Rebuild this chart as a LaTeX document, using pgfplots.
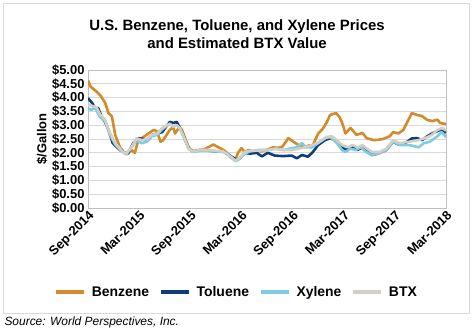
\documentclass[border=0pt]{standalone}
\usepackage{pgfplots}
\pgfplotsset{compat=1.18}
\usepackage{fontspec}
\setmainfont{Liberation Sans}
\definecolor{benz}{HTML}{D38A2A}
\definecolor{tolu}{HTML}{0F3D7C}
\definecolor{xyl}{HTML}{7ECCE4}
\definecolor{btx}{HTML}{D3CFC4}
\definecolor{gridc}{HTML}{D9D9D9}
\definecolor{framec}{HTML}{BFBFBF}
\begin{document}
\begin{tikzpicture}
\useasboundingbox (0,0) rectangle (474bp,331bp);
\draw[gridc, line width=0.8bp] (3bp,18bp) rectangle (469bp,328bp);
\node[font=\fontsize{15}{18}\selectfont\bfseries, align=center] at (237bp,297bp) {U.S. Benzene, Toluene, and Xylene Prices\\and Estimated BTX Value};
\node[font=\fontsize{12}{14}\selectfont\itshape, anchor=west] at (1bp,9bp) {Source: World Perspectives, Inc.};
\begin{axis}[
  scale only axis, width=358bp, height=138bp,
  at={(88bp,123bp)}, anchor=south west,
  xmin=0, xmax=42, ymin=0, ymax=5,
  xtick={0,6,...,42},
  xticklabels={Sep-2014,Mar-2015,Sep-2015,Mar-2016,Sep-2016,Mar-2017,Sep-2017,Mar-2018},
  ytick={0,0.5,...,5},
  yticklabel={\$\pgfmathprintnumber[fixed,fixed zerofill,precision=2]{\tick}},
  /pgf/number format/assume math mode=true,
  ymajorgrids, grid style={gridc, line width=0.8bp},
  axis line style={framec, line width=0.8bp},
  major tick length=0pt,
  y tick label style={font=\fontsize{13}{15}\selectfont\bfseries},
  x tick label style={font=\fontsize{13}{15}\selectfont\bfseries, rotate=45, anchor=north east, inner sep=1bp},
  ylabel={\$/Gallon}, ylabel style={font=\fontsize{13}{15}\selectfont\bfseries, yshift=-2bp},
  legend columns=4,
  legend style={at={(0.415,-0.61)}, anchor=center, draw=none, fill=none,
    font=\fontsize{14}{16}\selectfont\bfseries, column sep=4bp,
    /tikz/every even column/.append style={column sep=8bp}},
  legend image code/.code={\draw[#1, line width=3.5bp] (0bp,0bp) -- (28bp,0bp);},
  every axis plot/.append style={line width=2.6bp, line join=round, mark=none},
]
\addplot[benz] coordinates {
(0,4.62)(0.3,4.40)(0.6,4.32)(1.0,4.22)(1.4,4.10)(2.0,3.82)(2.4,3.44)(2.8,3.32)(3.2,2.64)(3.75,2.2)
(4.3,1.99)(4.6,1.95)(5.1,2.1)(5.5,2.0)(5.9,2.46)(6.5,2.57)(7.1,2.7)(7.7,2.83)(8.1,2.78)(8.5,2.4)
(8.8,2.45)(9.2,2.64)(9.6,2.83)(10.0,2.93)(10.2,2.7)(10.6,2.87)(11.0,2.85)(11.6,2.35)(12.0,2.1)(12.5,2.05)
(13.1,2.1)(13.6,2.12)(14.1,2.2)(14.7,2.3)(15.3,2.2)(15.9,2.1)(16.3,2.0)(16.7,1.85)(17.3,1.75)(17.6,2.0)
(18.0,2.17)(18.4,2.02)(18.8,2.1)(19.3,2.05)(19.8,2.07)(20.4,2.05)(21.1,2.12)(21.7,2.2)(22.3,2.18)(22.8,2.22)
(23.5,2.53)(24.0,2.42)(24.7,2.28)(25.5,2.2)(26.0,2.28)(26.3,2.22)(27.0,2.7)(27.5,2.85)(28.0,3.1)(28.4,3.37)
(29.1,3.44)(29.5,3.3)(29.8,3.1)(30.2,2.7)(30.8,2.9)(31.5,2.65)(32.2,2.72)(32.7,2.53)(33.5,2.46)(34.0,2.47)
(34.6,2.5)(35.4,2.6)(35.8,2.75)(36.4,2.7)(37.0,2.83)(37.4,3.08)(38.0,3.44)(38.6,3.37)(39.2,3.33)(39.8,3.19)
(40.4,3.15)(41.0,3.2)(41.3,3.08)(42.0,3.04)};
\addlegendentry{Benzene}
\addplot[tolu] coordinates {
(0,3.98)(0.5,3.8)(0.8,3.62)(1.2,3.62)(1.6,3.3)(2.0,3.12)(2.4,2.83)(2.9,2.35)(3.75,2.1)(4.3,2.0)
(4.7,1.98)(5.3,2.35)(5.9,2.53)(6.5,2.5)(7.0,2.45)(7.5,2.64)(8.1,2.7)(8.7,2.75)(9.3,3.0)(9.6,3.12)
(10.0,3.08)(10.4,3.12)(10.8,2.9)(11.4,2.46)(11.8,2.17)(12.3,2.05)(13.1,2.1)(14.1,2.08)(15.1,2.05)(15.9,2.05)
(16.4,1.95)(16.9,1.85)(17.5,1.74)(17.8,1.8)(18.4,2.0)(19.0,1.97)(19.8,2.0)(20.4,1.87)(21.1,2.0)(21.9,1.9)
(22.9,1.88)(23.9,1.9)(24.5,1.8)(25.1,1.92)(25.8,1.86)(26.3,2.0)(27.0,2.28)(27.8,2.46)(28.4,2.53)(29.0,2.46)
(29.6,2.28)(30.2,2.1)(31.0,2.2)(31.6,2.1)(32.2,2.2)(32.7,2.08)(33.3,1.92)(34.0,1.97)(35.0,2.1)(35.8,2.4)
(36.4,2.3)(37.2,2.35)(38.0,2.52)(38.6,2.53)(39.2,2.46)(39.8,2.6)(40.5,2.72)(41.3,2.83)(41.9,2.75)(42,2.72)};
\addlegendentry{Toluene}
\addplot[xyl] coordinates {
(0,3.62)(0.4,3.55)(0.8,3.65)(1.4,3.3)(2.0,3.15)(2.6,2.64)(3.2,2.3)(4.0,2.05)(4.5,1.95)(5.1,2.2)
(5.7,2.45)(6.3,2.35)(6.9,2.4)(7.5,2.6)(8.1,2.65)(8.7,2.85)(9.3,3.0)(9.6,3.05)(10.0,2.95)(10.4,3.0)
(10.8,2.9)(11.4,2.45)(11.8,2.15)(12.3,2.03)(13.1,2.08)(14.1,2.08)(15.1,2.05)(15.9,2.03)(16.4,1.93)(16.9,1.8)
(17.3,1.7)(17.8,1.8)(18.4,1.97)(19.0,2.05)(20.0,2.1)(21.1,2.1)(22.0,2.15)(23.0,2.1)(23.6,2.15)(24.5,2.2)
(25.1,2.35)(25.6,2.2)(26.3,2.2)(27.0,2.35)(27.8,2.53)(28.4,2.57)(29.2,2.35)(29.8,2.1)(30.2,2.03)(30.8,2.15)
(31.4,2.1)(32.0,2.2)(32.6,2.03)(33.3,1.92)(34.0,1.97)(35.0,2.1)(35.8,2.4)(36.6,2.28)(37.7,2.28)(38.8,2.2)
(39.4,2.35)(40.1,2.4)(41.0,2.6)(41.5,2.75)(42.0,2.57)};
\addlegendentry{Xylene}
\addplot[btx] coordinates {
(0,3.75)(0.5,3.7)(1.0,3.65)(1.4,3.4)(2.0,3.2)(2.6,2.7)(3.2,2.35)(4.0,2.05)(4.5,1.97)(5.1,2.2)
(5.7,2.53)(6.3,2.46)(6.9,2.5)(7.5,2.64)(8.1,2.7)(8.7,2.9)(9.3,3.0)(9.6,3.05)(10.0,2.95)(10.4,3.0)
(10.8,2.87)(11.4,2.45)(11.8,2.15)(12.3,2.05)(13.1,2.1)(14.1,2.1)(15.1,2.07)(15.9,2.05)(16.4,1.95)(16.9,1.82)
(17.3,1.72)(17.8,1.82)(18.4,2.03)(19.0,2.07)(20.0,2.08)(21.1,2.1)(22.0,2.15)(23.0,2.1)(24.0,2.1)(24.7,2.15)
(25.5,2.2)(26.3,2.28)(27.2,2.4)(28.0,2.57)(28.6,2.6)(29.2,2.46)(29.8,2.28)(30.5,2.2)(31.0,2.28)(31.6,2.2)
(32.2,2.28)(32.7,2.15)(33.3,2.03)(34.2,2.03)(35.0,2.15)(35.8,2.46)(36.5,2.35)(37.7,2.4)(38.8,2.46)(39.5,2.53)
(40.3,2.64)(41.0,2.83)(41.6,2.9)(42.0,2.8)};
\addlegendentry{BTX}
\end{axis}
\end{tikzpicture}
\end{document}
